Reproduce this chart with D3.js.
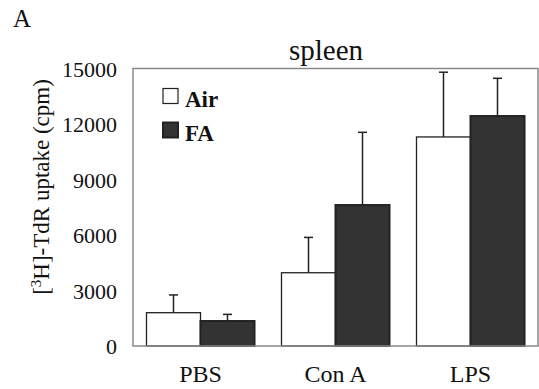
<!DOCTYPE html>
<html>
<head>
<meta charset="utf-8">
<script src="https://cdn.jsdelivr.net/npm/d3@7"></script>
<style>
  body { margin: 0; background: #fff; }
  svg text { font-family: "Liberation Serif", "Tinos", "DejaVu Serif", serif; fill: #111; }
</style>
</head>
<body>
<svg id="chart" width="539" height="389"></svg>
<script>
'use strict';

var categories = ["PBS", "Con A", "LPS"];
var groups = ["Air", "FA"];
var airValues = [1800, 3960, 11300];
var airErrors = [960, 1910, 3500];
var faValues = [1350, 7620, 12430];
var faErrors = [360, 3930, 2040];
var yTicks = [0, 3000, 6000, 9000, 12000, 15000];

var colors = { Air: "#ffffff", FA: "#333333" };
var serif = '"Liberation Serif", "Tinos", "DejaVu Serif", serif';

var svg = d3.select("#chart");

var margin = { left: 133, right: 538, top: 68.5, bottom: 346 };

var x = d3.scaleBand()
    .domain(categories)
    .range([margin.left, margin.right])
    .paddingInner(0.2)
    .paddingOuter(0.1);

var xSub = d3.scaleBand()
    .domain(groups)
    .range([0, x.bandwidth()]);

var y = d3.scaleLinear()
    .domain([0, 15000])
    .range([margin.bottom, margin.top]);

// one row per bar
var rows = [];
categories.forEach(function (c, i) {
    rows.push({ cat: c, group: "Air", value: airValues[i], err: airErrors[i] });
    rows.push({ cat: c, group: "FA", value: faValues[i], err: faErrors[i] });
});

// y axis labels (no ticks, no domain)
var yAxis = svg.append("g")
    .attr("transform", "translate(" + margin.left + ",0)")
    .call(d3.axisLeft(y).tickValues(yTicks).tickSize(0).tickPadding(16).tickFormat(d3.format("d")));
yAxis.attr("font-family", null);
yAxis.select(".domain").remove();
yAxis.selectAll("text")
    .style("font-family", serif)
    .style("font-size", "22px")
    .attr("fill", "#111")
    .attr("dy", "0.35em");

// x axis labels
var xAxis = svg.append("g")
    .attr("transform", "translate(0," + margin.bottom + ")")
    .call(d3.axisBottom(x).tickSize(0).tickPadding(19));
xAxis.attr("font-family", null);
xAxis.select(".domain").remove();
xAxis.selectAll("text")
    .style("font-family", serif)
    .style("font-size", "24px")
    .attr("fill", "#111");

// error bars (upper only)
var cx = function (d) { return x(d.cat) + xSub(d.group) + xSub.bandwidth() / 2; };

var err = svg.append("g").attr("class", "errors")
    .selectAll("g")
    .data(rows)
    .enter().append("g");

err.append("line")
    .attr("x1", cx)
    .attr("x2", cx)
    .attr("y1", function (d) { return y(d.value); })
    .attr("y2", function (d) { return y(d.value + d.err); })
    .attr("stroke", "#222")
    .attr("stroke-width", 1.5);

err.append("line")
    .attr("x1", function (d) { return cx(d) - 4.5; })
    .attr("x2", function (d) { return cx(d) + 4.5; })
    .attr("y1", function (d) { return y(d.value + d.err); })
    .attr("y2", function (d) { return y(d.value + d.err); })
    .attr("stroke", "#222")
    .attr("stroke-width", 1.5);

// bars
svg.append("g").attr("class", "bars")
    .selectAll("rect")
    .data(rows)
    .enter().append("rect")
    .attr("x", function (d) { return x(d.cat) + xSub(d.group); })
    .attr("y", function (d) { return y(d.value); })
    .attr("width", xSub.bandwidth())
    .attr("height", function (d) { return y(0) - y(d.value); })
    .attr("fill", function (d) { return colors[d.group]; })
    .attr("stroke", "#222")
    .attr("stroke-width", function (d) { return d.group === "FA" ? 2 : 1.3; });

// plot frame
svg.append("rect")
    .attr("x", margin.left)
    .attr("y", margin.top)
    .attr("width", margin.right - margin.left)
    .attr("height", margin.bottom - margin.top)
    .attr("fill", "none")
    .attr("stroke", "#8a8a8a")
    .attr("stroke-width", 1.5);

// legend
var legend = svg.append("g").attr("class", "legend")
    .selectAll("g")
    .data(groups)
    .enter().append("g")
    .attr("transform", function (d, i) { return "translate(163," + (88.5 + i * 34) + ")"; });

legend.append("rect")
    .attr("width", 15)
    .attr("height", 15)
    .attr("fill", function (d) { return colors[d]; })
    .attr("stroke", "#222")
    .attr("stroke-width", function (d) { return d === "FA" ? 2 : 1.2; });

legend.append("text")
    .attr("x", 22)
    .attr("y", 18.5)
    .style("font-size", "23px")
    .style("font-weight", "bold")
    .text(function (d) { return d; });

// title
svg.append("text")
    .attr("x", 326)
    .attr("y", 60)
    .attr("text-anchor", "middle")
    .style("font-size", "29px")
    .text("spleen");

// panel label
svg.append("text")
    .attr("x", 13)
    .attr("y", 27)
    .style("font-size", "25px")
    .text("A");

// y axis title
var yTitle = svg.append("text")
    .attr("transform", "translate(49,187) rotate(-90)")
    .attr("text-anchor", "middle")
    .style("font-size", "23px");
yTitle.append("tspan").text("[");
yTitle.append("tspan").attr("baseline-shift", "super").style("font-size", "15px").text("3");
yTitle.append("tspan").text("H]-TdR uptake (cpm)");
</script>
</body>
</html>
